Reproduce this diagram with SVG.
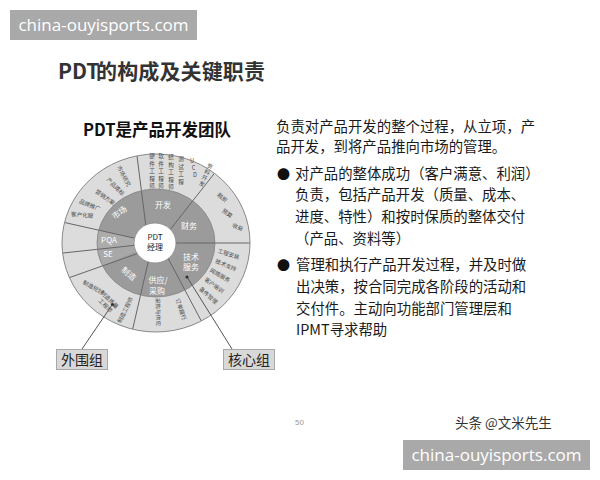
<svg xmlns="http://www.w3.org/2000/svg" width="600" height="480" viewBox="0 0 600 480">
<defs>
<style>
.cn{font-family:"Noto Sans CJK SC","Noto Sans",sans-serif;}
.sm{font-size:5.6px;fill:#4a4a4a;text-anchor:middle;}
.ring{font-size:8px;fill:#fff;text-anchor:middle;}
.body{font-size:14.4px;fill:#1a1a1a;}
.div{stroke:#666;stroke-width:1;fill:none;}
.wm{fill:#a9a9a9;}
.wmt{font-family:"Open Sans","Liberation Sans",sans-serif;font-size:17px;fill:#fff;}
.lbl{fill:#d8d8d8;stroke:#a8a8a8;stroke-width:1;}
</style>
<clipPath id="outerClip"><ellipse cx="156" cy="243" rx="94" ry="89"/></clipPath>
</defs>
<rect width="600" height="480" fill="#fff"/>

<g id="watermark-top">
<rect class="wm" x="10" y="10" width="187" height="30"/>
<text class="wmt" x="103.5" y="31" text-anchor="middle">china-ouyisports.com</text>
</g>

<g id="title">
<text class="cn" x="58" y="79" font-size="21" font-weight="bold" fill="#333">PDT</text>
<text class="cn" x="96" y="79" font-size="21" font-weight="bold" fill="#333" textLength="169" lengthAdjust="spacing">的构成及关键职责</text>
</g>

<g id="subtitle">
<text class="cn" x="83" y="136" font-size="16.5" font-weight="bold" fill="#111">PDT是产品开发团队</text>
</g>

<g id="wheel">
<ellipse cx="156" cy="243" rx="94" ry="89" fill="#dcdcdc"/>
<ellipse cx="156" cy="243" rx="59" ry="54" fill="#9b9b9b"/>
<path d="M156,243 L98.7,230.3 A59,54 0 0 0 97.4,249.4 Z" fill="#acacac"/>
<path d="M156,243 L97.4,249.4 A59,54 0 0 0 102.6,266 Z" fill="#a8a8a8"/>
<g clip-path="url(#outerClip)">
<line class="div" x1="156" y1="243" x2="40" y2="217"/>
<line class="div" x1="156" y1="243" x2="40" y2="255.5"/>
<line class="div" x1="156" y1="247" x2="40" y2="288"/>
<line class="div" x1="152.6" y1="243" x2="129" y2="345"/>
<line class="div" x1="160" y1="243" x2="214" y2="345"/>
<line class="div" x1="156" y1="243" x2="260" y2="243" stroke="#444" stroke-width="2"/>
<line class="div" x1="159.6" y1="243" x2="240.6" y2="140"/>
<line class="div" x1="148" y1="243" x2="135" y2="140"/>
</g>
<ellipse cx="156" cy="243" rx="59" ry="54" fill="none" stroke="#858585" stroke-width="0.8"/>
<ellipse cx="156" cy="243" rx="94" ry="89" fill="none" stroke="#888" stroke-width="1"/>
<ellipse cx="155" cy="243" rx="21" ry="20" fill="#fff" stroke="#888" stroke-width="0.8"/>
</g>

<g id="center-pdt">
<text class="cn" x="155" y="240" font-size="8" fill="#222" text-anchor="middle">PDT</text>
<text class="cn" x="155" y="250" font-size="8" fill="#222" text-anchor="middle">经理</text>
</g>

<g id="core-ring">
<text class="cn ring" x="163" y="208">开发</text>
<text class="cn ring" transform="translate(121,215) rotate(-35)">市场</text>
<text class="cn ring" x="189" y="229">财务</text>
<text class="cn ring" x="109" y="243">PQA</text>
<text class="cn ring" x="108" y="257">SE</text>
<text class="cn ring" transform="translate(127,276) rotate(40)">制造</text>
<text class="cn ring" x="158" y="283">供应/</text>
<text class="cn ring" x="157" y="294">采购</text>
<text class="cn ring" x="191" y="260">技术</text>
<text class="cn ring" x="191" y="270">服务</text>
</g>

<g id="outer-market">
<text class="cn sm" transform="translate(122,177) rotate(62)">市场研究</text>
<text class="cn sm" transform="translate(114,188) rotate(45)">产品路标</text>
<text class="cn sm" transform="translate(104,199) rotate(35)">营销方案</text>
<text class="cn sm" transform="translate(89,207) rotate(22)">品牌推广</text>
<text class="cn sm" transform="translate(82,217) rotate(5)">客户化服</text>
</g>

<g id="outer-dev">
<text class="cn sm"><tspan x="152" y="158">硬</tspan><tspan x="152" y="165.5">件</tspan><tspan x="152" y="173">工</tspan><tspan x="152" y="180.5">程</tspan><tspan x="152" y="188">师</tspan></text>
<text class="cn sm"><tspan x="161" y="158">软</tspan><tspan x="161" y="165.5">件</tspan><tspan x="161" y="173">工</tspan><tspan x="161" y="180.5">程</tspan><tspan x="161" y="188">师</tspan></text>
<text class="cn sm"><tspan x="171" y="159">结</tspan><tspan x="171" y="166.5">构</tspan><tspan x="171" y="174">工</tspan><tspan x="171" y="181.5">程</tspan><tspan x="171" y="189">师</tspan></text>
<text class="cn sm"><tspan x="181" y="161">测</tspan><tspan x="181" y="168.5">试</tspan><tspan x="181" y="176">工</tspan><tspan x="181" y="183.5">程</tspan></text>
<text class="cn sm"><tspan x="192" y="163">U</tspan><tspan x="193.5" y="170">C</tspan><tspan x="195" y="177">D</tspan></text>
<text class="cn sm" transform="translate(209,168) rotate(25)"><tspan x="0" y="0">资</tspan><tspan x="0" y="6.5">料</tspan><tspan x="0" y="13">开</tspan><tspan x="0" y="19.5">发</tspan></text>
</g>

<g id="outer-finance">
<text class="cn sm" transform="translate(221,199) rotate(40)">融资</text>
<text class="cn sm" transform="translate(226,215) rotate(35)">预算</text>
<text class="cn sm" transform="translate(237,229) rotate(20)">收益</text>
</g>

<g id="outer-service">
<text class="cn sm" transform="translate(228,256) rotate(18)">工程安装</text>
<text class="cn sm" transform="translate(225,267) rotate(24)">技术支持</text>
<text class="cn sm" transform="translate(219,277) rotate(30)">网络服务</text>
<text class="cn sm" transform="translate(213,287) rotate(36)">客户培训</text>
<text class="cn sm" transform="translate(207,297) rotate(42)">备件管理</text>
</g>

<g id="outer-supply">
<text class="cn sm" transform="translate(179,310) rotate(72)">订单履行</text>
<text class="cn sm" transform="translate(156,312) rotate(88)">采购与供应</text>
</g>

<g id="outer-manufacture">
<text class="cn sm" transform="translate(92,289) rotate(30)">制造规划</text>
<text class="cn sm" transform="translate(108,301) rotate(45)">制造质量</text>
<text class="cn sm" transform="translate(104,307) rotate(45)">工程师</text>
<text class="cn sm" transform="translate(127,311) rotate(-63)">制造工程师</text>
</g>

<g id="connectors">
<line x1="82" y1="349" x2="112" y2="305" stroke="#555" stroke-width="1"/>
<circle cx="112.5" cy="304.5" r="1.6" fill="#333"/>
<line x1="232" y1="349" x2="187" y2="277" stroke="#555" stroke-width="1"/>
<circle cx="187" cy="277" r="1.6" fill="#333"/>
</g>

<g id="label-outer">
<rect class="lbl" x="56.5" y="349.5" width="51" height="20"/>
<text class="cn" x="82" y="365" font-size="14" fill="#222" text-anchor="middle">外围组</text>
</g>
<g id="label-core">
<rect class="lbl" x="223.5" y="349.5" width="51" height="20"/>
<text class="cn" x="249" y="365" font-size="14" fill="#222" text-anchor="middle">核心组</text>
</g>

<g id="description">
<text class="cn body" x="276" y="132">负责对产品开发的整个过程，从立项，产</text>
<text class="cn body" x="276" y="152">品开发，到将产品推向市场的管理。</text>
<text class="cn" x="277" y="179" font-size="13" fill="#111">●</text>
<text class="cn body" x="295" y="179">对产品的整体成功（客户满意、利润）</text>
<text class="cn body" x="295" y="200">负责，包括产品开发（质量、成本、</text>
<text class="cn body" x="295" y="222">进度、特性）和按时保质的整体交付</text>
<text class="cn body" x="295" y="244">（产品、资料等）</text>
<text class="cn" x="277" y="270" font-size="13" fill="#111">●</text>
<text class="cn body" x="296" y="270">管理和执行产品开发过程，并及时做</text>
<text class="cn body" x="296" y="292">出决策，按合同完成各阶段的活动和</text>
<text class="cn body" x="296" y="314">交付件。主动向功能部门管理层和</text>
<text class="cn body" x="296" y="335">IPMT寻求帮助</text>
</g>

<g id="page-number">
<text x="295" y="425" font-family="Liberation Sans, sans-serif" font-size="8" fill="#999">50</text>
</g>
<g id="credit">
<text class="cn" x="455" y="428" font-size="13.5" fill="#333">头条 @文米先生</text>
</g>

<g id="watermark-bottom">
<rect class="wm" x="403" y="440" width="187" height="30"/>
<text class="wmt" x="496.5" y="461" text-anchor="middle">china-ouyisports.com</text>
</g>
</svg>
